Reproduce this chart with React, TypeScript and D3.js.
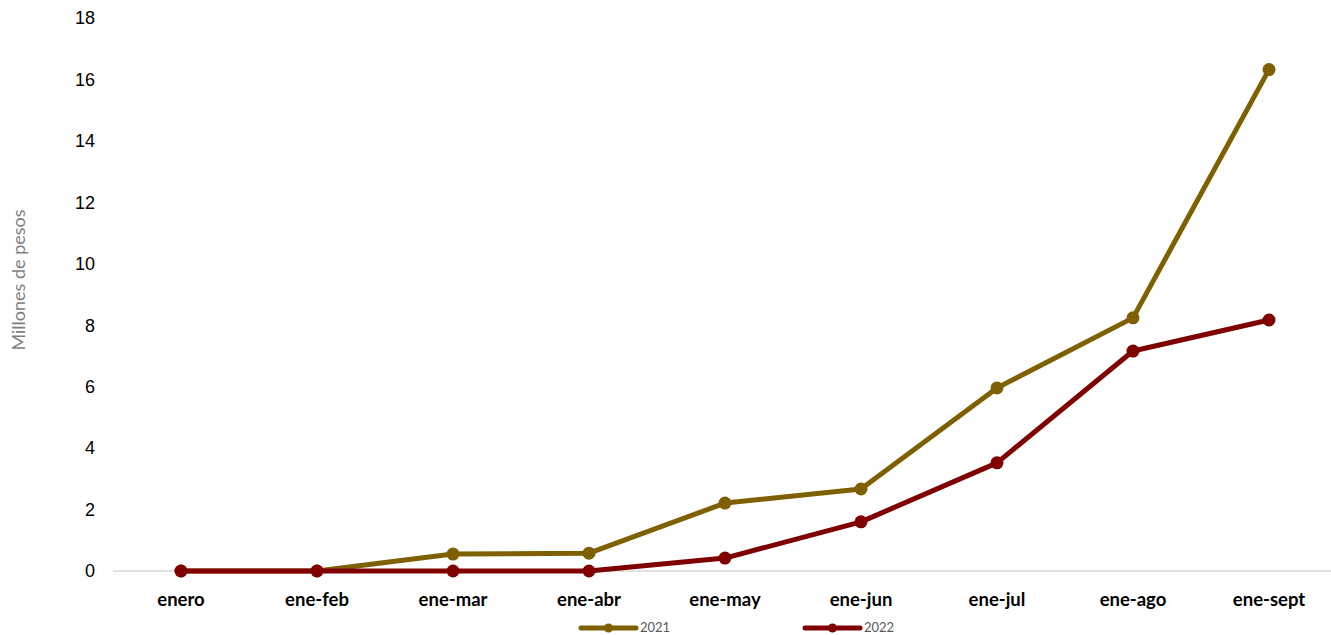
import React from "react";
import * as d3 from "d3";

const categories = ["enero", "ene-feb", "ene-mar", "ene-abr", "ene-may", "ene-jun", "ene-jul", "ene-ago", "ene-sept"];
const values2021 = [0, 0, 0.55, 0.58, 2.21, 2.67, 5.96, 8.24, 16.32];
const values2022 = [0, 0, 0, 0, 0.42, 1.6, 3.52, 7.16, 8.17];
const yTicks = [0, 2, 4, 6, 8, 10, 12, 14, 16, 18];
const seriesNames = ["2021", "2022"];
const seriesColors = ["#7F6000", "#800000"];

export default function App() {
  const W = 1331, H = 635;
  const x = d3.scaleBand<string>().domain(categories).range([113, 1337]);
  const y = d3.scaleLinear().domain([0, 18]).range([571, 18]);
  const line = d3.line<number>()
    .x((_, i) => (x(categories[i]) as number) + x.bandwidth() / 2)
    .y((d) => y(d));
  const series = [values2021, values2022];
  const legendX = [581, 805];
  return (
    <svg width={W} height={H} style={{ position: "absolute", left: 0, top: 0, background: "#fff" }}>
      <line x1={113} x2={1331} y1={y(0)} y2={y(0)} stroke="#d9d9d9" strokeWidth={1.5} />
      {yTicks.map((t) => (
        <text key={t} x={95} y={y(t)} dy="0.35em" textAnchor="end" fontFamily="Liberation Sans, Arial" fontSize={18} fill="#000">{t}</text>
      ))}
      <text transform={`translate(19,280) rotate(-90)`} textAnchor="middle" dy="0.35em" fontFamily="Lato" fontSize={18} fill="#7f7f7f">Millones de pesos</text>
      {categories.map((c) => (
        <text key={c} x={(x(c) as number) + x.bandwidth() / 2} y={600} dy="0.35em" textAnchor="middle" fontFamily="Lato" fontWeight="bold" fontSize={18.5} fill="#000">{c}</text>
      ))}
      {series.map((s, si) => (
        <g key={si}>
          <path d={line(s) || ""} fill="none" stroke={seriesColors[si]} strokeWidth={5} strokeLinejoin="round" />
          {s.map((v, i) => (
            <circle key={i} cx={(x(categories[i]) as number) + x.bandwidth() / 2} cy={y(v)} r={6.5} fill={seriesColors[si]} />
          ))}
        </g>
      ))}
      {seriesNames.map((n, si) => (
        <g key={n}>
          <line x1={legendX[si]} x2={legendX[si] + 55} y1={628} y2={628} stroke={seriesColors[si]} strokeWidth={5} strokeLinecap="round" />
          <circle cx={legendX[si] + 27.5} cy={628} r={4.5} fill={seriesColors[si]} />
          <text x={legendX[si] + 59} y={627.5} dy="0.35em" fontFamily="Lato" fontSize={13} fill="#595959">{n}</text>
        </g>
      ))}
    </svg>
  );
}
